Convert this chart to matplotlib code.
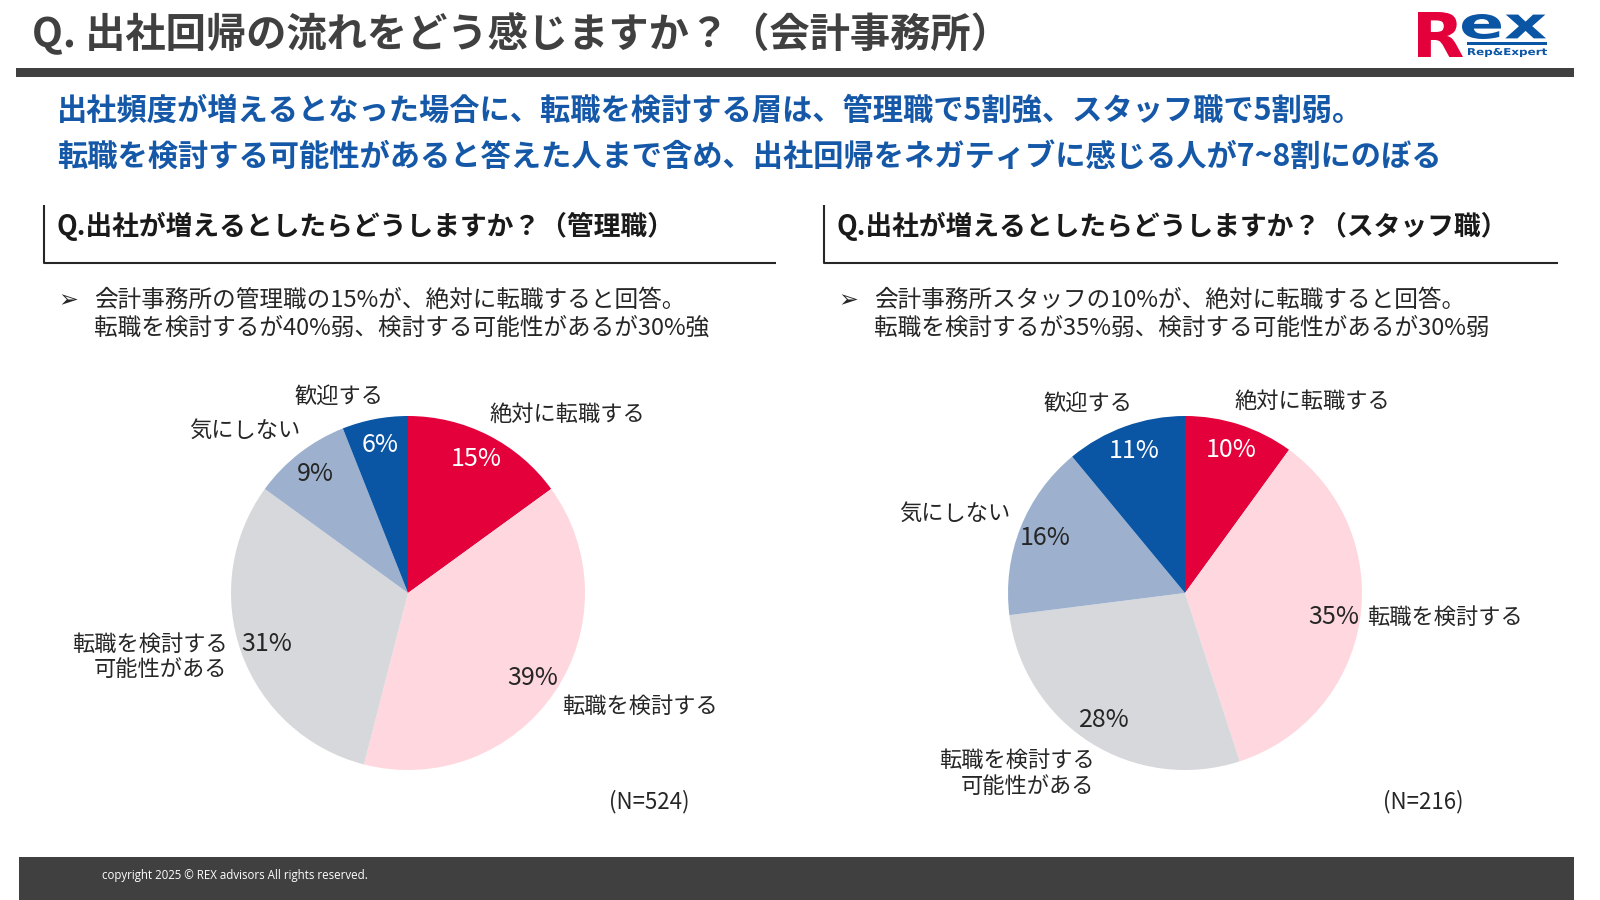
import matplotlib
matplotlib.use("Agg")
import matplotlib.pyplot as plt
from matplotlib.patches import Rectangle, PathPatch
from matplotlib.textpath import TextPath
from matplotlib.font_manager import FontProperties
from matplotlib.transforms import Affine2D

plt.rcParams['font.family'] = ['Noto Sans CJK JP', 'DejaVu Sans']

# data
categories = ['絶対に転職する', '転職を検討する', '転職を検討する\n可能性がある', '気にしない', '歓迎する']
manager_vals = [15, 39, 31, 9, 6]
staff_vals = [10, 35, 28, 16, 11]
manager_n = 524
staff_n = 216

title = 'Q. 出社回帰の流れをどう感じますか？（会計事務所）'
lead_lines = ['出社頻度が増えるとなった場合に、転職を検討する層は、管理職で5割強、スタッフ職で5割弱。',
              '転職を検討する可能性があると答えた人まで含め、出社回帰をネガティブに感じる人が7~8割にのぼる']
q_left = 'Q.出社が増えるとしたらどうしますか？（管理職）'
q_right = 'Q.出社が増えるとしたらどうしますか？（スタッフ職）'
note_left = ['会計事務所の管理職の15%が、絶対に転職すると回答。',
             '転職を検討するが40%弱、検討する可能性があるが30%強']
note_right = ['会計事務所スタッフの10%が、絶対に転職すると回答。',
              '転職を検討するが35%弱、検討する可能性があるが30%弱']

colors = ['#E4003A', '#FFD7DE', '#D7D8DC', '#9DB1CF', '#0B55A5']
pct_colors = ['white', '#262626', '#262626', '#262626', 'white']
DARK = '#404040'
BLUE = '#1558A8'

# label positions in pie radius units (x, y, ha)
left_lab_pos = [(0.90, 1.01, 'center'), (1.31, -0.64, 'center'), (-1.02, -0.36, 'right'),
                (-0.92, 0.92, 'center'), (-0.39, 1.11, 'center')]
right_lab_pos = [(0.72, 1.08, 'center'), (1.03, -0.14, 'left'), (-0.51, -1.02, 'right'),
                 (-1.30, 0.45, 'center'), (-0.55, 1.07, 'center')]

W, H = 1600, 900
fig = plt.figure(figsize=(16, 9), dpi=100)
fig.patch.set_facecolor('white')

# overlay axes in pixel coordinates, y down
bg = fig.add_axes([0, 0, 1, 1])
bg.set_xlim(0, W)
bg.set_ylim(H, 0)
bg.axis('off')


def fit_text(ax, s, x0, y0, x1, y1, color):
    tp = TextPath((0, 0), s, size=10, prop=FontProperties(family='DejaVu Sans', weight='bold'))
    ext = tp.get_extents()
    tr = (Affine2D().translate(-ext.x0, -ext.y1)
          .scale((x1 - x0) / ext.width, -(y1 - y0) / ext.height).translate(x0, y0))
    ax.add_patch(PathPatch(tr.transform_path(tp), fc=color, ec='none'))


# header
bg.text(32, 34, title, fontsize=29, fontweight='bold', color=DARK, va='center')
bg.add_patch(Rectangle((16, 68), 1558, 9, color=DARK, lw=0))
fit_text(bg, 'R', 1418, 12, 1463, 57, '#E4003A')
fit_text(bg, 'ex', 1462, 14, 1546, 39, '#0B55A5')
bg.add_patch(Rectangle((1467, 42), 80, 3, color='#0B55A5', lw=0))
fit_text(bg, 'Rep&Expert', 1468, 48, 1547, 57, '#0B55A5')

for i, line in enumerate(lead_lines):
    bg.text(57, 111 + i * 46, line, fontsize=21.8, fontweight='bold', color=BLUE, va='center')

# section headers
for x0, x1, q, notes in [(44, 776, q_left, note_left), (824, 1558, q_right, note_right)]:
    bg.plot([x0, x0, x1], [205, 263, 263], color='#262626', lw=1.5, solid_capstyle='butt')
    bg.text(x0 + 13, 226, q, fontsize=19.3, fontweight='bold', color='#1a1a1a', va='center')
    bg.text(x0 + 14, 300, '➢', fontsize=17, fontweight='bold', color='#262626',
            va='center', ha='left')
    for j, t in enumerate(notes):
        bg.text(x0 + 50, 300 + j * 28, t, fontsize=17, color='#262626', va='center')

bg.text(649, 802, f'(N={manager_n})', fontsize=16, color='#262626', ha='center', va='center')
bg.text(1423, 802, f'(N={staff_n})', fontsize=16, color='#262626', ha='center', va='center')

# footer
bg.add_patch(Rectangle((19, 857), 1555, 43, color=DARK, lw=0))
bg.text(102, 876, 'copyright 2025 © REX advisors All rights reserved.', fontsize=8.3,
        color='white', va='center', family=['Open Sans', 'DejaVu Sans'])

# pies
R = 177
K = 1.7


def draw_pie(cx, cy, vals, lab_pos):
    half = K * R
    ax = fig.add_axes([(cx - half) / W, (H - cy - half) / H, 2 * half / W, 2 * half / H])
    wedges, texts, autotexts = ax.pie(vals, colors=colors, startangle=90, counterclock=False,
                                      autopct=lambda p: f'{p:.0f}%', pctdistance=0.85,
                                      wedgeprops=dict(linewidth=0),
                                      textprops=dict(fontsize=18))
    for t, c in zip(autotexts, pct_colors):
        t.set_color(c)
    for (lx, ly, ha), lab in zip(lab_pos, categories):
        ax.text(lx, ly, lab, fontsize=16, color='#262626', ha=ha, va='center',
                multialignment='right', linespacing=1.15)
    ax.set_xlim(-K, K)
    ax.set_ylim(-K, K)
    ax.axis('off')


draw_pie(408, 593, manager_vals, left_lab_pos)
draw_pie(1185, 593, staff_vals, right_lab_pos)

fig.savefig('out.png', dpi=100, facecolor='white')
